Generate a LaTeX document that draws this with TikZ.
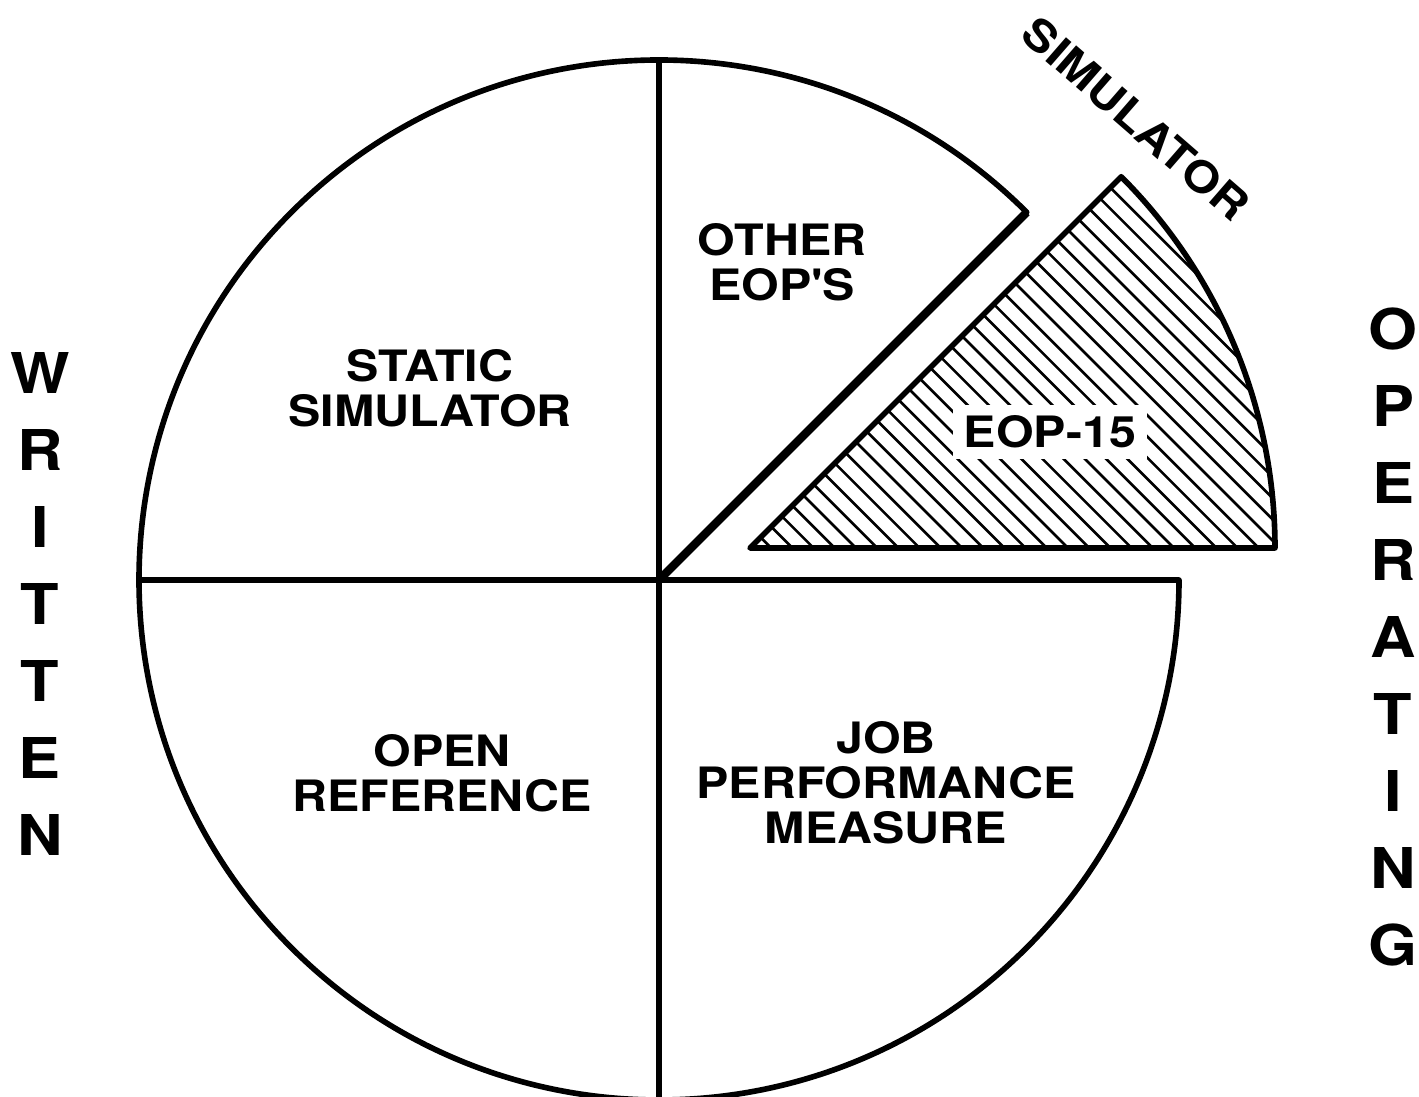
\documentclass[tikz,border=0pt]{standalone}
\usepackage{fontspec}
\setmainfont{TeX Gyre Heros}[FakeStretch=1.12]
\tikzset{
    slice/.style={draw=black, line width=1.6pt, line join=round},
    hatch/.style={draw=black, line width=0.75pt},
    label/.style={align=center, font=\fontsize{12.3}{12.8}\selectfont\bfseries, inner sep=0pt},
    side/.style={align=center, font=\fontsize{16}{21.9}\selectfont\bfseries, inner sep=0pt},
}

\begin{document}
\begin{tikzpicture}
    \useasboundingbox (0,0) rectangle (14.19,10.97);
    \coordinate (C) at (6.59,5.17);
    \coordinate (apex) at (7.50,5.49);

    % pie without the cut-out slice
    \draw[slice] (C) -- ++(45:5.2) arc[start angle=45, end angle=360, radius=5.2] -- cycle;
    \draw[slice] (C) -- ++(0,5.2);
    \draw[slice] (C) -- ++(-5.2,0);
    \draw[slice] (C) -- ++(0,-5.2);
    \draw[slice, line width=2.4pt] (C) -- ++(45:5.2);

    % pulled-out slice, hatched
    \begin{scope}
        \clip (apex) -- ++(0:5.25) arc[start angle=0, end angle=45, radius=5.25] -- cycle;
        \foreach \k in {0,...,36}
            \draw[hatch] ([xshift=\k*2.12mm]apex) ++(-6,6) -- ++(12,-12);
    \end{scope}
    \draw[slice] (apex) -- ++(0:5.25) arc[start angle=0, end angle=45, radius=5.25] -- cycle;

    \node at (4.30,7.09) (static) [label] {STATIC\\SIMULATOR};
    \node at (7.82,8.35) (other) [label] {OTHER\\EOP\textquotesingle S};
    \node at (10.50,6.65) (eop) [label, fill=white, inner sep=3pt] {EOP-15};
    \node at (4.42,3.24) (open) [label] {OPEN\\REFERENCE};
    \node at (8.86,3.14) (job) [label] {JOB\\PERFORMANCE\\MEASURE};
    \node at (11.36,9.78) (sim) [label, rotate=-41] {SIMULATOR};

    \node at (0.40,4.93) (written) [side] {W\\R\\I\\T\\T\\E\\N};
    \node at (13.93,4.60) (operating) [side] {O\\P\\E\\R\\A\\T\\I\\N\\G};
\end{tikzpicture}
\end{document}
